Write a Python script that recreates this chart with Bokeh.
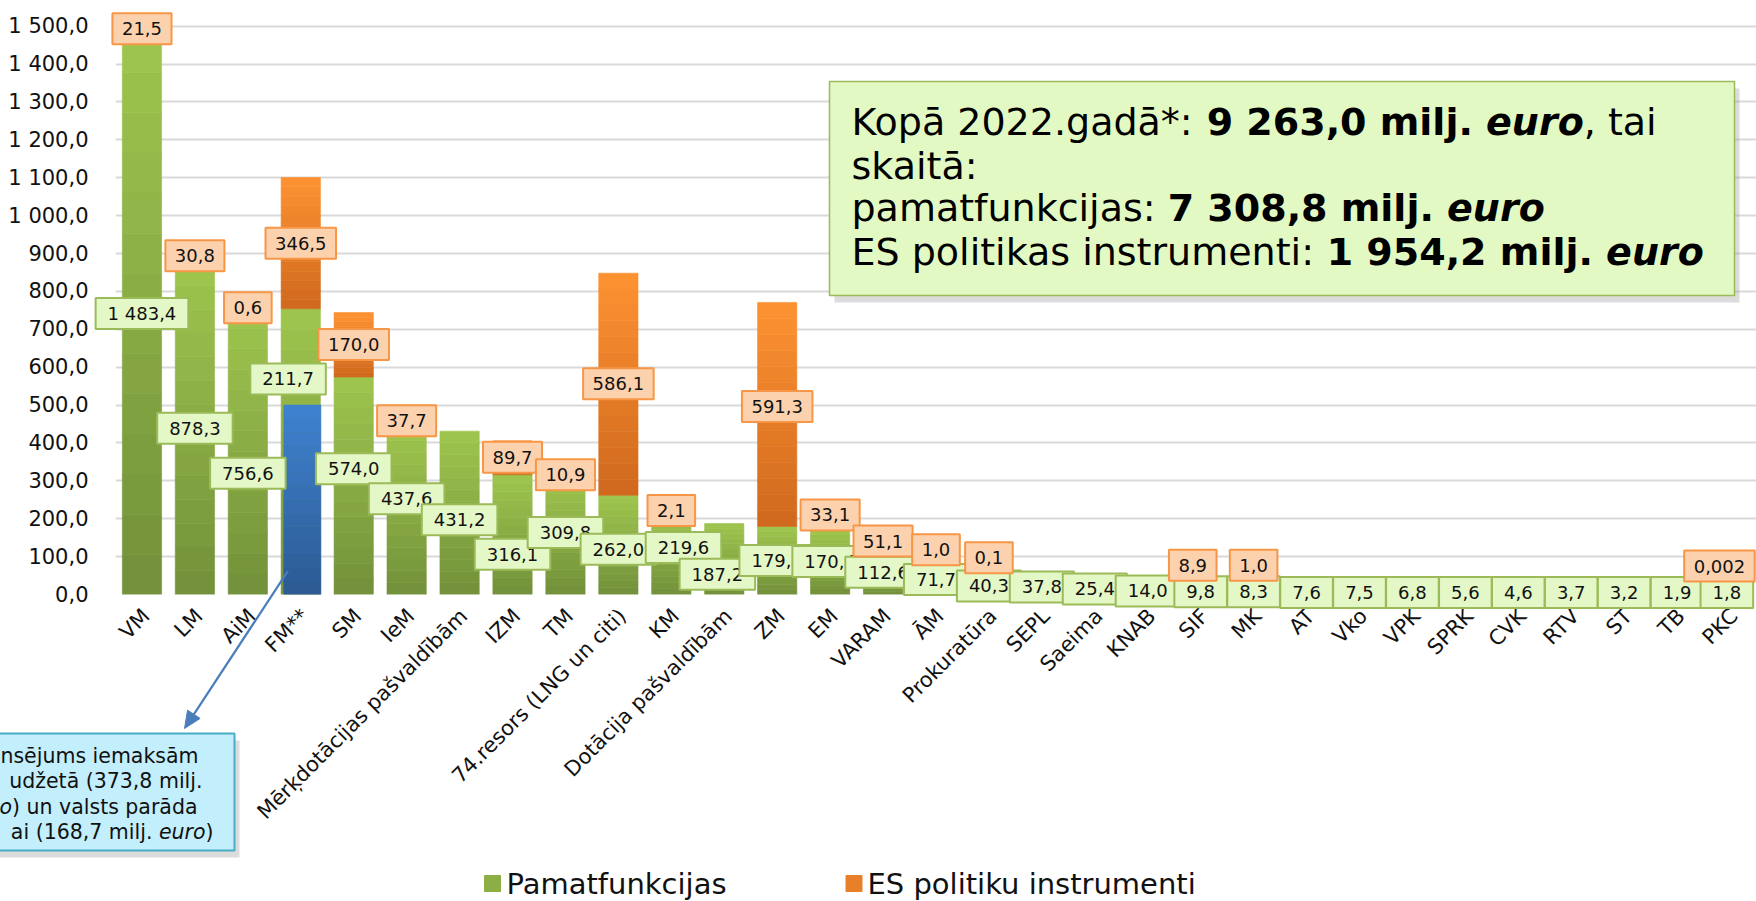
import os, glob, struct, math
from bokeh.plotting import figure
from bokeh.models import Range1d, FixedTicker, Label, BoxAnnotation
from bokeh.core.properties import value
from bokeh.embed import file_html
from bokeh.resources import INLINE

# ---------------- data ----------------
categories = ["VM", "LM", "AiM", "FM**", "SM", "IeM", "Mērķdotācijas pašvaldībām", "IZM", "TM",
              "74.resors (LNG un citi)", "KM", "Dotācija pašvaldībām", "ZM", "EM", "VARAM", "ĀM",
              "Prokuratūra", "SEPL", "Saeima", "KNAB", "SIF", "MK", "AT", "Vko", "VPK", "SPRK",
              "CVK", "RTV", "ST", "TB", "PKC"]
pamatfunkcijas = [1483.4, 878.3, 756.6, 211.7, 574.0, 437.6, 431.2, 316.1, 309.8, 262.0, 219.6,
                  187.2, 179.7, 170.4, 112.6, 71.7, 40.3, 37.8, 25.4, 14.0, 9.8, 8.3, 7.6, 7.5,
                  6.8, 5.6, 4.6, 3.7, 3.2, 1.9, 1.8]
es_instrumenti = [21.5, 30.8, 0.6, 346.5, 170.0, 37.7, 0.0, 89.7, 10.9, 586.1, 2.1, 0.0, 591.3,
                  33.1, 51.1, 1.0, 0.1, 0.0, 0.0, 0.0, 8.9, 1.0, 0.0, 0.0, 0.0, 0.0, 0.0, 0.0,
                  0.0, 0.0, 0.002]
fm_es_budget = 373.8        # FM** iemaksas ES budžetā
fm_debt = 168.7             # FM** valsts parāda apkalpošana
fm_highlight = 500.0        # blue highlighted part of the FM** bar, as drawn
total_2022 = 9263.0
total_pamat = 7308.8
total_es = 1954.2
y_ticks = [0, 100, 200, 300, 400, 500, 600, 700, 800, 900, 1000, 1100, 1200, 1300, 1400, 1500]
series_names = ["Pamatfunkcijas", "ES politiku instrumenti"]

# label anchor heights (data units) as placed in the original
green_label_y = [742, 439, 320, 569, 332, 252.5, 197, 106, 163.5, 119.6, 124, 53.6, 90, 87, 59,
                 39.5, 22.7, 20, 14.8, 9.5, 7, 7, 5, 5, 5, 5, 5, 5, 5, 5, 5]
green_label_dx = [0, 0, 0, -0.24, 0, 0, 0, 0, 0, 0, 0.23, -0.13, 0, 0, 0, 0, 0, 0, 0, 0, 0, 0,
                  0, 0, 0, 0, 0, 0, 0, 0, -0.06]
orange_label_y = [1493, 894, 757, 927, 660, 458.5, None, 362, 316.4, 556, 222, None, 496, 210, 141,
                  118, 97, None, None, None, 77, 77, None, None, None, None, None, None, None,
                  None, 75]
orange_label_dx = [0] * 20 + [-0.15] + [0] * 9 + [-0.2]

FONT = "DejaVu Sans"

# ---------------- text metrics ----------------
def _load_ttf(name):
    paths = []
    for root in ["/usr/share/fonts", "/usr/local/share/fonts", os.path.expanduser("~/.fonts")]:
        paths += glob.glob(os.path.join(root, "**", name), recursive=True)
    if not paths:
        return None
    try:
        data = open(paths[0], "rb").read()
        ntab = struct.unpack(">H", data[4:6])[0]
        tabs = {}
        for i in range(ntab):
            tag, _, off, ln = struct.unpack(">4sIII", data[12 + 16 * i:28 + 16 * i])
            tabs[tag.decode("latin1")] = off
        upem = struct.unpack(">H", data[tabs["head"] + 18:tabs["head"] + 20])[0]
        nhm = struct.unpack(">H", data[tabs["hhea"] + 34:tabs["hhea"] + 36])[0]
        hm = tabs["hmtx"]
        adv = [struct.unpack(">H", data[hm + 4 * i:hm + 4 * i + 2])[0] for i in range(nhm)]
        cm = tabs["cmap"]
        nsub = struct.unpack(">H", data[cm + 2:cm + 4])[0]
        sub = None
        for i in range(nsub):
            pid, eid, off = struct.unpack(">HHI", data[cm + 4 + 8 * i:cm + 12 + 8 * i])
            if pid == 3 and eid == 1:
                sub = cm + off
        segx2 = struct.unpack(">H", data[sub + 6:sub + 8])[0]
        seg = segx2 // 2
        ends = struct.unpack(">%dH" % seg, data[sub + 14:sub + 14 + segx2])
        so = sub + 16 + segx2
        starts = struct.unpack(">%dH" % seg, data[so:so + segx2])
        do = so + segx2
        deltas = struct.unpack(">%dh" % seg, data[do:do + segx2])
        ro = do + segx2
        ros = struct.unpack(">%dH" % seg, data[ro:ro + segx2])

        def gid(c):
            for i in range(seg):
                if ends[i] >= c:
                    if starts[i] > c:
                        return 0
                    if ros[i] == 0:
                        return (c + deltas[i]) & 0xFFFF
                    addr = ro + 2 * i + ros[i] + 2 * (c - starts[i])
                    g = struct.unpack(">H", data[addr:addr + 2])[0]
                    return (g + deltas[i]) & 0xFFFF if g else 0
            return 0

        def width(s, size):
            return sum(adv[min(gid(ord(ch)), nhm - 1)] for ch in s) * size / upem
        return width
    except Exception:
        return None

_w_reg = _load_ttf("DejaVuSans.ttf") or (lambda s, size: len(s) * 0.6 * size)
_w_bold = _load_ttf("DejaVuSans-Bold.ttf") or (lambda s, size: len(s) * 0.68 * size)

def text_width(s, size, style="normal"):
    return (_w_bold if "bold" in style else _w_reg)(s, size)

def fmt(v):
    if 0 < v < 0.05:
        return ("%.3f" % v).replace(".", ",")
    return ("{:,.1f}".format(v)).replace(",", " ").replace(".", ",")

# ---------------- geometry (pixel -> data) ----------------
W, H = 1756, 901
FRAME_L = 115
FRAME_B = 307
ZERO_Y = H - FRAME_B                      # pixel row of value 0
PX_PER_UNIT = (ZERO_Y - 25.7) / 1500.0    # 1500 gridline at row 25.7
Y_END = ZERO_Y / PX_PER_UNIT
CAT_W = (W - FRAME_L) / len(categories)

def dx(px):
    return (px - FRAME_L) / CAT_W - 0.5

def dy(py):
    return (ZERO_Y - py) / PX_PER_UNIT

# ---------------- figure ----------------
p = figure(width=W, height=H, x_range=Range1d(-0.5, len(categories) - 0.5),
           y_range=Range1d(0, Y_END), output_backend="svg", toolbar_location=None,
           min_border_left=FRAME_L, min_border_right=0, min_border_top=0,
           min_border_bottom=FRAME_B)
p.outline_line_color = None
p.background_fill_color = "white"

xs = list(range(len(categories)))
green_h = [v + (fm_es_budget + fm_debt if categories[i] == "FM**" else 0.0)
           for i, v in enumerate(pamatfunkcijas)]

def lerp(c1, c2, t):
    a = [int(c1[i:i + 2], 16) for i in (1, 3, 5)]
    b = [int(c2[i:i + 2], 16) for i in (1, 3, 5)]
    return "#%02x%02x%02x" % tuple(int(round(a[k] + (b[k] - a[k]) * t)) for k in range(3))

NS = 14
BAR_W = 0.742

def gradient_bars(xvals, bases, heights, top_col, bot_col, width=BAR_W):
    for k in range(NS):
        col = lerp(bot_col, top_col, (k + 0.5) / NS)
        b = [bs + h * k / NS for bs, h in zip(bases, heights)]
        t = [bs + h * (k + 1) / NS for bs, h in zip(bases, heights)]
        p.vbar(x=xvals, bottom=b, top=t, width=width, fill_color=col, line_color=col,
               line_width=0.6)

GREEN_TOP, GREEN_BOT = "#9fc64e", "#72903a"
ORANGE_TOP, ORANGE_BOT = "#fd9232", "#cf691d"
gradient_bars(xs, [0.0] * len(xs), green_h, GREEN_TOP, GREEN_BOT)
es_x = [i for i in xs if es_instrumenti[i] > 0]
gradient_bars(es_x, [green_h[i] for i in es_x], [es_instrumenti[i] for i in es_x],
              ORANGE_TOP, ORANGE_BOT)
fm_i = categories.index("FM**")
gradient_bars([fm_i + 0.03], [0.0], [fm_highlight], "#3f82d0", "#2c5a92", width=0.70)

# ---------------- axes & grid ----------------
TICK_SHIFT = 0.08   # category labels sit slightly right of the bar centres
x_ticks = [i + TICK_SHIFT for i in xs]
p.xaxis.ticker = FixedTicker(ticks=x_ticks)
p.xaxis.major_label_overrides = {t: c for t, c in zip(x_ticks, categories)}
p.xaxis.major_label_orientation = math.pi / 4
p.xaxis.axis_line_color = None
p.xaxis.major_tick_line_color = None
p.xaxis.minor_tick_line_color = None
p.xaxis.major_label_standoff = 12
p.xaxis.major_label_text_font = FONT
p.xaxis.major_label_text_font_size = "21px"
p.xaxis.major_label_text_color = "#111111"
p.xgrid.visible = False

p.yaxis.ticker = FixedTicker(ticks=y_ticks)
p.yaxis.major_label_overrides = {t: fmt(float(t)) for t in y_ticks}
p.yaxis.axis_line_color = None
p.yaxis.major_tick_line_color = None
p.yaxis.minor_tick_line_color = None
p.yaxis.major_label_standoff = 21
p.yaxis.major_label_text_font = FONT
p.yaxis.major_label_text_font_size = "21px"
p.yaxis.major_label_text_color = "#111111"
p.ygrid.ticker = FixedTicker(ticks=y_ticks)
p.ygrid.grid_line_color = "#d9d9d9"
p.ygrid.grid_line_width = 2

# ---------------- data labels (overlay level: not clipped by the frame) ----------------
LBL = 18

def box_label(x, y, txt, fill, line, pad_h):
    w = text_width(txt, LBL) + 2 * pad_h
    p.rect(x=[x], y=[y], width=[w], height=[31], width_units="screen", height_units="screen",
           fill_color=fill, line_color=line, line_width=2, level="overlay")
    p.text(x=[x], y=[y], text=[txt], text_font=value(FONT), text_font_size=value("%dpx" % LBL),
           text_align="center", text_baseline="middle", text_color="#111111", level="overlay")

for i in xs:
    box_label(i + green_label_dx[i], green_label_y[i], fmt(pamatfunkcijas[i]),
              "#e4f7c6", "#9bbb59", 12)
for i in xs:
    if orange_label_y[i] is not None:
        box_label(i + orange_label_dx[i], orange_label_y[i], fmt(es_instrumenti[i]),
                  "#fcd2ae", "#f79646", 9.5)

# ---------------- summary box ----------------
sxo, syo = 5 / CAT_W, 7 / PX_PER_UNIT
p.add_layout(BoxAnnotation(left=dx(829) + sxo, right=dx(1734) + sxo, top=dy(81) - syo,
                           bottom=dy(295) - syo, fill_color="#9a9a9a", fill_alpha=0.35,
                           line_color=None))
p.add_layout(BoxAnnotation(left=dx(829), right=dx(1734), top=dy(81), bottom=dy(295),
                           fill_color="#e3f9c3", fill_alpha=1.0, line_color="#9bbb59",
                           line_alpha=1.0, line_width=1.5))
BIG = 38
summary_lines = [
    [("Kopā 2022.gadā*: ", "normal"), (fmt(total_2022) + " milj. ", "bold"),
     ("euro", "bold italic"), (", tai", "normal")],
    [("skaitā:", "normal")],
    [("pamatfunkcijas: ", "normal"), (fmt(total_pamat) + " milj. ", "bold"),
     ("euro", "bold italic")],
    [("ES politikas instrumenti: ", "normal"), (fmt(total_es) + " milj. ", "bold"),
     ("euro", "bold italic")],
]
line_py = [121.7, 165.0, 207.5, 251.7]
for pieces, py in zip(summary_lines, line_py):
    off = 0.0
    for txt, style in pieces:
        if txt.strip():
            p.add_layout(Label(x=dx(851), y=dy(py), x_offset=off, text=txt.rstrip(),
                               text_font=FONT, text_font_size="%dpx" % BIG,
                               text_font_style=style, text_align="left",
                               text_baseline="middle", text_color="#000000"))
        off += text_width(txt, BIG, style)

# ---------------- FM** callout (partly outside the window, as in the original) -------
p.quad(left=[dx(-30) + sxo], right=[dx(234) + sxo], top=[dy(733) - syo],
       bottom=[dy(850) - syo], fill_color="#9a9a9a", fill_alpha=0.35, line_color=None,
       level="overlay")
p.quad(left=[dx(-30)], right=[dx(234)], top=[dy(733)], bottom=[dy(850)],
       fill_color="#c3eefb", line_color="#4bacc6", line_width=2, level="overlay")
SMALL = 20.5
callout_lines = [
    ([("nsējums iemaksām", "normal")], 198, 755),
    ([("udžetā (" + fmt(fm_es_budget) + " milj.", "normal")], 202, 780),
    ([("o", "italic"), (") un valsts parāda", "normal")], 197, 806),
    ([("ai (" + fmt(fm_debt) + " milj. ", "normal"), ("euro", "italic"), (")", "normal")],
     213, 831.5),
]
for pieces, right_px, py in callout_lines:
    off = 0.0
    for txt, style in reversed(pieces):
        stripped = txt.rstrip()
        trail = text_width(txt, SMALL, style) - text_width(stripped, SMALL, style)
        p.text(x=[dx(right_px)], y=[dy(py)], x_offset=-(off + trail), text=[stripped],
               text_font=value(FONT), text_font_size=value("%spx" % SMALL),
               text_font_style=style, text_align="right", text_baseline="middle",
               text_color="#111111", level="overlay")
        off += text_width(txt, SMALL, style)

# arrow from the FM** bar to the callout
a_start, a_tip = (287.3, 570.7), (184.0, 728.0)
ux, uy = a_tip[0] - a_start[0], a_tip[1] - a_start[1]
ln = math.hypot(ux, uy)
ux, uy = ux / ln, uy / ln
nx, ny = -uy, ux
HEAD_L, HEAD_W = 17.0, 7.5
bx, by = a_tip[0] - HEAD_L * ux, a_tip[1] - HEAD_L * uy
p.segment(x0=[dx(a_start[0])], y0=[dy(a_start[1])], x1=[dx(bx)], y1=[dy(by)],
          line_color="#4a7ebb", line_width=2.2, level="overlay")
p.patch(x=[dx(a_tip[0]), dx(bx + HEAD_W * nx), dx(bx - HEAD_W * nx)],
        y=[dy(a_tip[1]), dy(by + HEAD_W * ny), dy(by - HEAD_W * ny)],
        fill_color="#4a7ebb", line_color="#4a7ebb", line_width=1, level="overlay")

# ---------------- legend (drawn below the axis) ----------------
LEG_Y = 883
legend_entries = [(series_names[0], lerp(GREEN_BOT, GREEN_TOP, 0.55), 492.0, 506.0),
                  (series_names[1], lerp(ORANGE_BOT, ORANGE_TOP, 0.55), 853.5, 867.0)]
for name, col, sq_x, tx in legend_entries:
    p.rect(x=[dx(sq_x)], y=[dy(LEG_Y)], width=[16], height=[16], width_units="screen",
           height_units="screen", fill_color=col, line_color=col, level="overlay")
    p.text(x=[dx(tx)], y=[dy(LEG_Y)], text=[name], text_font=value(FONT),
           text_font_size=value("29px"), text_align="left", text_baseline="middle",
           text_color="#111111", level="overlay")

open("out.html", "w").write(file_html(p, INLINE))
